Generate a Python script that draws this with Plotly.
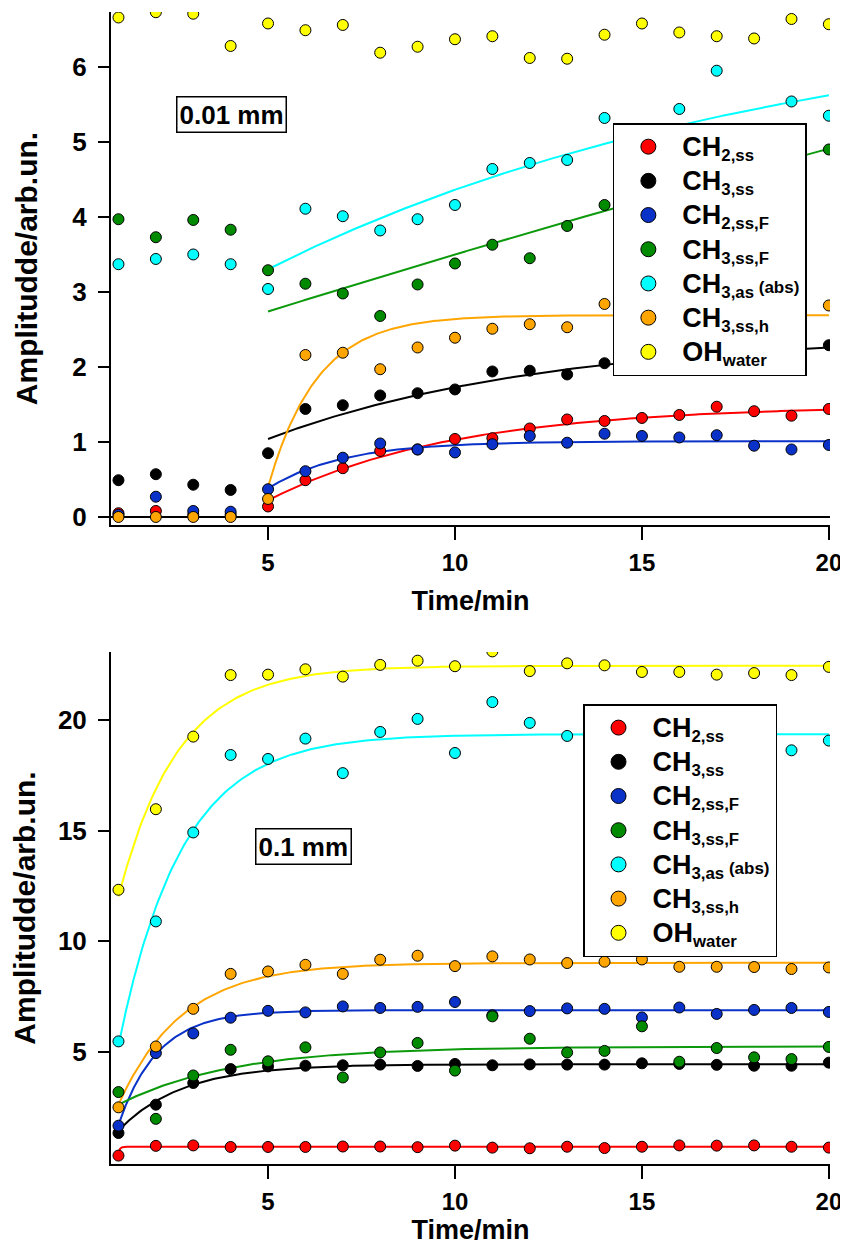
import numpy as np
import plotly.graph_objects as go

# ---------------- data ----------------
time_min = list(range(1, 21))

series_names = ["<span style='font-size:27px'>CH</span><sub>2,ss</sub>",
                "<span style='font-size:27px'>CH</span><sub>3,ss</sub>",
                "<span style='font-size:27px'>CH</span><sub>2,ss,F</sub>",
                "<span style='font-size:27px'>CH</span><sub>3,ss,F</sub>",
                "<span style='font-size:27px'>CH</span><sub>3,as</sub><span style='font-size:17px'> (abs)</span>",
                "<span style='font-size:27px'>CH</span><sub>3,ss,h</sub>",
                "<span style='font-size:27px'>OH</span><sub>water</sub>"]
series_colors = ["#ff0000", "#000000", "#0a32c8", "#008a00", "#00ffff", "#ffa500", "#ffff00"]
line_colors = ["#ff0000", "#000000", "#0a32c8", "#0c9a0c", "#00ffff", "#ffa500", "#ffff00"]

# panel 1 : 0.01 mm
top_ch2_ss = [0.05, 0.08, 0.03, 0.03, 0.14, 0.49, 0.65, 0.88, 0.90, 1.04,
              1.05, 1.18, 1.30, 1.28, 1.32, 1.36, 1.47, 1.41, 1.35, 1.44]
top_ch3_ss = [0.49, 0.57, 0.43, 0.36, 0.85, 1.44, 1.49, 1.62, 1.65, 1.70,
              1.94, 1.95, 1.90, 2.05, 2.08, 2.12, 2.20, 2.15, 2.24, 2.29]
top_ch2_ssF = [0.03, 0.27, 0.08, 0.07, 0.37, 0.61, 0.79, 0.98, 0.90, 0.86,
               0.97, 1.08, 0.99, 1.11, 1.08, 1.06, 1.09, 0.95, 0.90, 0.96]
top_ch3_ssF = [3.97, 3.73, 3.96, 3.83, 3.29, 3.11, 2.98, 2.68, 3.10, 3.38,
               3.63, 3.45, 3.88, 4.16, 4.35, 4.42, 4.55, 4.66, 4.75, 4.90]
top_ch3_as = [3.37, 3.44, 3.50, 3.37, 3.04, 4.11, 4.01, 3.82, 3.97, 4.16,
              4.64, 4.72, 4.76, 5.32, 5.15, 5.44, 5.95, 5.05, 5.54, 5.35]
top_ch3_ssh = [0.00, 0.00, 0.00, 0.00, 0.24, 2.16, 2.19, 1.97, 2.26, 2.39,
               2.51, 2.57, 2.53, 2.84, 2.65, 2.70, 2.60, 2.75, 2.70, 2.82]
top_oh_water = [6.66, 6.73, 6.71, 6.28, 6.58, 6.49, 6.56, 6.19, 6.27, 6.37,
                6.41, 6.12, 6.11, 6.43, 6.58, 6.46, 6.41, 6.38, 6.64, 6.57]

# panel 2 : 0.1 mm
bot_ch2_ss = [0.32, 0.76, 0.78, 0.71, 0.71, 0.71, 0.73, 0.73, 0.70, 0.77,
              0.68, 0.65, 0.72, 0.66, 0.72, 0.78, 0.77, 0.78, 0.72, 0.68]
bot_ch3_ss = [1.34, 2.62, 3.60, 4.23, 4.35, 4.38, 4.40, 4.43, 4.37, 4.46,
              4.40, 4.44, 4.43, 4.43, 4.49, 4.46, 4.42, 4.38, 4.38, 4.52]
bot_ch2_ssF = [1.67, 4.95, 5.84, 6.55, 6.86, 6.79, 7.06, 6.99, 7.04, 7.26,
               6.66, 6.85, 6.97, 6.95, 6.56, 7.01, 6.72, 6.90, 6.99, 6.81]
bot_ch3_ssF = [3.19, 1.98, 3.94, 5.10, 4.58, 5.21, 3.85, 4.98, 5.41, 4.16,
               6.61, 5.60, 4.98, 5.05, 6.16, 4.56, 5.18, 4.76, 4.68, 5.23]
bot_ch3_as = [5.48, 10.90, 14.92, 18.42, 18.24, 19.16, 17.60, 19.46, 20.05, 18.51,
              20.81, 19.87, 19.28, 19.00, 19.50, 19.20, 18.90, 19.40, 18.63, 19.07]
bot_ch3_ssh = [2.50, 5.25, 6.95, 8.53, 8.64, 8.94, 8.53, 9.17, 9.35, 8.88,
               9.32, 9.18, 9.02, 9.08, 9.18, 8.85, 8.85, 8.84, 8.75, 8.82]
bot_oh_water = [12.33, 15.97, 19.25, 22.03, 22.05, 22.29, 21.96, 22.49, 22.68, 22.43,
                23.10, 22.21, 22.56, 22.47, 22.17, 22.17, 22.05, 22.12, 22.03, 22.40]

top_series = [top_ch2_ss, top_ch3_ss, top_ch2_ssF, top_ch3_ssF, top_ch3_as, top_ch3_ssh, top_oh_water]
bot_series = [bot_ch2_ss, bot_ch3_ss, bot_ch2_ssF, bot_ch3_ssF, bot_ch3_as, bot_ch3_ssh, bot_oh_water]

# exponential fit parameters  y = A - B*exp(-(t - t0)/tau)   (None = no fit)
top_fit_start = 5
top_fit_A = [1.491, 2.445, 1.01, 18.32, 6.83, 2.69, None]
top_fit_B = [1.271, 1.405, 0.63, 15.58, 3.527, 2.29, None]
top_fit_tau = [4.93, 7.4, 2.0, 100.0, 14.0, 1.31, None]

bot_fit_start = 1
bot_fit_A = [0.72, 4.45, 6.89, 5.25, 19.36, 9.03, 22.45]
bot_fit_B = [0.28, 3.0, 5.17, 2.63, 14.06, 6.41, 10.42]
bot_fit_tau = [0.04, 1.7, 1.05, 3.0, 1.7, 1.7, 1.6]

t_end = 20

# ---------------- figure ----------------
FONT = "Liberation Sans, Arial, Helvetica, sans-serif"
fig = go.Figure()


def add_panel(series, fitA, fitB, fittau, t0, xa, ya, legend_name):
    tt = np.concatenate([np.linspace(t0, t0 + 0.5, 200), np.linspace(t0 + 0.5, t_end, 300)])
    for i in range(len(series)):
        if fitA[i] is None:
            continue
        yy = fitA[i] - fitB[i] * np.exp(-(tt - t0) / fittau[i])
        fig.add_trace(go.Scatter(x=tt, y=yy, mode="lines", xaxis=xa, yaxis=ya,
                                 line=dict(color=line_colors[i], width=2),
                                 showlegend=False, hoverinfo="skip"))
    for i, vals in enumerate(series):
        fig.add_trace(go.Scatter(x=time_min, y=vals, mode="markers", xaxis=xa, yaxis=ya,
                                 name=series_names[i], showlegend=False,
                                 marker=dict(size=11, color=series_colors[i],
                                             line=dict(color="black", width=1))))
    # legend entries (larger symbols, as in the reference legend)
    for i in range(len(series)):
        fig.add_trace(go.Scatter(x=[None], y=[None], mode="markers", xaxis=xa, yaxis=ya,
                                 name=series_names[i], legend=legend_name,
                                 marker=dict(size=15, color=series_colors[i],
                                             line=dict(color="black", width=1))))


add_panel(top_series, top_fit_A, top_fit_B, top_fit_tau, top_fit_start, "x", "y", "legend")
add_panel(bot_series, bot_fit_A, bot_fit_B, bot_fit_tau, bot_fit_start, "x2", "y2", "legend2")

axis_common = dict(showline=True, linewidth=2, linecolor="black", ticks="outside",
                   tickwidth=2, tickcolor="black", showgrid=False, mirror=False,
                   automargin=False)
x_common = dict(axis_common, range=[0.8, 20.03], tickvals=[5, 10, 15, 20], ticklen=13,
                zeroline=False, ticklabelstandoff=2, ticklabeloverflow="allow",
                tickfont=dict(family=FONT, size=24, color="black", weight="bold"))
x_title_font = dict(family=FONT, size=27, color="black", weight="bold")
y_title = dict(text="Amplitudde/arb.un.", font=dict(family=FONT, size=30, color="black", weight="bold"),
               standoff=26)
y_tickfont = dict(family=FONT, size=26, color="black", weight="bold")

legend_common = dict(bgcolor="white", bordercolor="black", borderwidth=1.5,
                     font=dict(family=FONT, size=24, color="black", weight="bold"),
                     xanchor="left", yanchor="top", itemwidth=58, tracegroupgap=0,
                     itemclick=False, itemdoubleclick=False)

# the page body adds an 8 px offset at the top-left, the figure fills the rest of the window
fig.update_layout(
    width=840, height=1244,
    margin=dict(l=103, r=18, t=4, b=88, autoexpand=False),
    paper_bgcolor="white", plot_bgcolor="white",
    font=dict(family=FONT, color="black", weight="bold"),
    showlegend=True,
    xaxis=dict(x_common, domain=[0, 1], anchor="y",
               title=dict(text="Time/min", font=x_title_font, standoff=16)),
    yaxis=dict(axis_common, domain=[0.5547, 1.0], anchor="x", range=[-0.107, 6.733],
               tickvals=[0, 1, 2, 3, 4, 5, 6], ticklen=11, tickfont=y_tickfont,
               ticklabelstandoff=6,
               zeroline=True, zerolinecolor="black", zerolinewidth=2, title=y_title),
    xaxis2=dict(x_common, domain=[0, 1], anchor="y2",
                title=dict(text="Time/min", font=x_title_font, standoff=5)),
    yaxis2=dict(axis_common, domain=[0.0, 0.4444], anchor="x2", range=[-0.06, 23.07],
                tickvals=[5, 10, 15, 20], ticklen=11, tickfont=y_tickfont,
                ticklabelstandoff=6, zeroline=False, title=y_title),
    legend=dict(legend_common, x=0.698, y=0.9036),
    legend2=dict(legend_common, x=0.6565, y=0.3993),
    annotations=[
        dict(text="0.01 mm", xref="paper", yref="paper", x=0.1669, y=0.911,
             xanchor="center", yanchor="middle", showarrow=False,
             font=dict(family=FONT, size=26, color="black", weight="bold"),
             bordercolor="black", borderwidth=1.5, borderpad=2, bgcolor="white"),
        dict(text="0.1 mm", xref="paper", yref="paper", x=0.2684, y=0.2756,
             xanchor="center", yanchor="middle", showarrow=False,
             font=dict(family=FONT, size=26, color="black", weight="bold"),
             bordercolor="black", borderwidth=1.5, borderpad=2, bgcolor="white"),
    ],
)

fig.write_html("out.html")
